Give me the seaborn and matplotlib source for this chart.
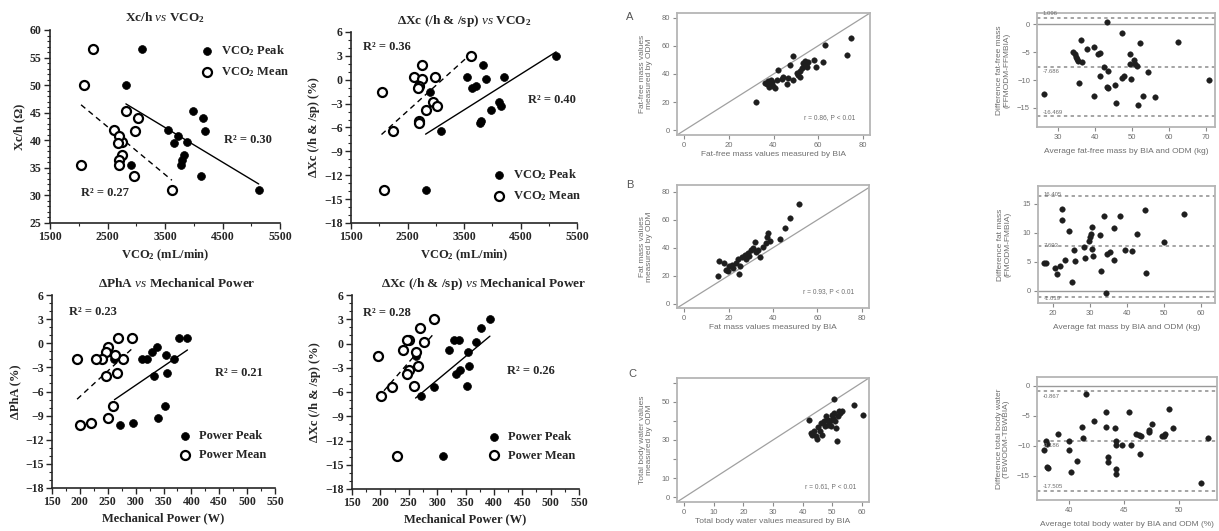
import matplotlib.pyplot as plt
import numpy as np
import pandas as pd
import seaborn as sns
from matplotlib.ticker import AutoMinorLocator, MultipleLocator

# ---- left figure: one value per subject ----
vco2_mean = [3620, 2760, 2980, 2620, 2760, 2700, 2680, 2040, 2960, 3030, 2830, 2700, 2700, 2250, 2090]
vco2_peak = [5130, 3830, 4200, 3550, 3890, 3720, 3650, 2900, 4120, 4160, 3980, 3800, 3780, 3100, 2820]
xc_h = [31.0, 37.4, 41.7, 41.8, 39.6, 40.8, 39.5, 35.6, 33.6, 44.0, 45.3, 36.5, 35.6, 56.5, 50.0]
delta_xc = [3.0, 1.9, 0.4, 0.4, 0.14, -0.8, -1.0, -1.6, -2.8, -3.3, -3.75, -5.2, -5.4, -6.5, -13.9]
power_mean = [294, 269, 250, 247, 277, 239, 263, 195, 266, 250, 247, 260, 220, 201, 229]
power_peak = [393, 377, 339, 330, 368, 321, 355, 262, 356, 341, 333, 352, 295, 272, 311]
delta_pha = [0.7, 0.7, -0.44, -1.1, -2.0, -2.0, -1.5, -1.9, -3.7, -9.3, -4.1, -7.8, -9.9, -10.2, -2.0]
vco2_ticks = [1500, 2500, 3500, 4500, 5500]

# ---- right figure: BIA vs ODM ----
ffm_bia = [32.0, 36.2, 37.0, 37.7, 38.4, 39.2, 39.9, 40.7, 42.2, 43.6, 44.4, 45.9, 46.6, 47.4, 48.6, 48.9,
           51.1, 51.9, 52.6, 53.4, 53.7, 54.1, 54.6, 54.9, 55.6, 58.2, 59.1, 62.0, 63.1, 72.8, 74.7,
           38.0, 39.0, 41.5, 50.5, 52.0]
ffm_odm = [20.5, 33.8, 32.6, 35.0, 33.0, 34.5, 31.5, 30.3, 43.0, 36.8, 37.8, 33.0, 37.3, 46.6, 36.0, 53.0,
           39.6, 37.8, 44.3, 47.8, 45.5, 49.4, 46.6, 44.8, 48.5, 50.1, 44.8, 48.5, 60.6, 53.6, 65.3,
           31.0, 35.5, 36.0, 40.5, 42.0]
fm_bia = [15.1, 15.5, 18.1, 18.9, 19.6, 20.4, 21.6, 22.2, 23.4, 24.2, 24.6, 25.2, 26.1, 27.2, 27.9, 28.7,
          29.4, 30.2, 30.9, 31.7, 32.5, 33.2, 34.3, 35.5, 36.7, 37.3, 37.7, 38.5, 43.0, 45.3, 47.8, 51.8]
fm_odm = [20.1, 30.3, 29.1, 24.4, 23.2, 26.7, 27.9, 25.6, 29.1, 32.0, 21.5, 26.7, 33.4, 35.0, 32.0, 36.3,
          34.3, 38.6, 39.8, 43.8, 36.7, 38.6, 33.4, 40.5, 43.3, 48.0, 50.9, 44.5, 46.2, 54.0, 61.1, 71.2]
tbw_bia = [42.2, 42.7, 43.3, 43.9, 44.4, 45.0, 45.2, 45.9, 46.1, 46.7, 47.3, 47.5, 47.8, 48.4, 48.6,
           49.3, 49.5, 49.8, 50.1, 50.5, 50.7, 51.0, 51.2, 51.6, 51.8, 52.4, 52.7, 53.2, 57.2, 60.3]
tbw_odm = [40.7, 33.7, 32.8, 34.6, 31.9, 30.7, 36.7, 34.6, 38.9, 32.8, 39.8, 37.2, 42.5, 40.7, 38.1,
           39.8, 37.2, 43.3, 41.6, 51.2, 44.2, 39.8, 36.3, 29.3, 42.5, 45.4, 44.2, 45.1, 48.1, 43.3]

# Bland-Altman points and limits
ffm_avg = [26.2, 34.1, 34.5, 34.8, 35.0, 35.5, 36.1, 35.6, 36.4, 37.7, 39.8, 39.8, 40.9, 41.4, 41.2, 42.3,
           43.2, 43.6, 43.2, 43.4, 45.5, 45.6, 47.3, 47.3, 47.7, 49.5, 49.4, 49.7, 50.5, 50.9, 51.2, 51.5,
           52.1, 53.0, 54.3, 56.1, 62.3, 70.9]
ffm_diff = [-12.5, -4.9, -5.3, -5.9, -6.2, -6.6, -2.9, -10.6, -6.8, -4.5, -4.0, -12.8, -5.3, -5.1, -9.3, -7.6,
            0.4, -8.4, -11.2, -11.5, -10.8, -14.1, -1.5, -9.6, -9.2, -5.3, -7.2, -9.8, -6.4, -7.2, -7.4, -14.5,
            -3.4, -12.8, -8.6, -13.1, -3.1, -9.9]
fm_avg = [17.5, 18.0, 20.5, 21.1, 21.8, 22.5, 22.5, 23.2, 24.4, 25.0, 25.6, 25.9, 28.4, 28.6, 29.8, 30.0,
          30.2, 30.5, 30.5, 30.7, 32.7, 32.9, 33.8, 34.4, 34.5, 35.3, 36.4, 36.5, 38.0, 39.5, 41.4, 42.7,
          44.8, 45.0, 50.0, 55.3]
fm_diff = [4.8, 4.8, 4.0, 2.9, 4.3, 14.2, 12.3, 5.4, 10.3, 1.6, 7.1, 5.2, 7.5, 5.6, 8.6, 9.3,
           9.8, 11.1, 7.3, 6.1, 9.6, 3.4, 12.9, -0.3, 6.4, 6.7, 5.4, 10.9, 12.9, 7.1, 6.9, 9.8,
           14.0, 3.1, 8.4, 13.2]
tbw_avg = [37.7, 37.9, 38.0, 38.1, 38.0, 39.0, 40.0, 40.0, 40.2, 40.7, 41.2, 41.3, 42.3, 41.6, 43.4, 43.4,
           43.6, 43.6, 44.2, 44.3, 44.3, 44.3, 44.3, 44.8, 45.5, 45.7, 46.1, 46.4, 46.6, 46.5, 47.3, 47.3,
           47.6, 48.5, 48.7, 48.8, 49.1, 49.5, 52.0, 52.7]
tbw_diff = [-10.7, -9.2, -13.5, -13.6, -9.7, -8.0, -9.2, -10.7, -14.4, -12.5, -6.9, -8.7, -5.9, -1.3, -4.4, -6.9,
            -11.8, -12.6, -7.0, -9.1, -9.9, -13.9, -14.7, -9.9, -4.4, -9.9, -8.0, -8.1, -8.3, -11.3, -7.4, -7.7,
            -6.3, -8.4, -8.3, -8.0, -3.8, -7.0, -16.1, -8.7]
ffm_loa = [1.096, -7.686, -16.469]
fm_loa = [16.405, 7.693, -1.019]
tbw_loa = [-0.867, -9.186, -17.505]

sns.set_style("ticks")
plt.rcParams["font.family"] = ["Liberation Serif", "DejaVu Serif"]
plt.rcParams["mathtext.fontset"] = "custom"
plt.rcParams["mathtext.rm"] = "Liberation Serif"
plt.rcParams["mathtext.it"] = "Liberation Serif:italic"
plt.rcParams["mathtext.bf"] = "Liberation Serif:bold"

fig = plt.figure(figsize=(12.19, 5.31), dpi=100)
W, H = 1219, 531


def add_ax(x0, x1, y0, y1):
    return fig.add_axes([x0 / W, 1 - y1 / H, (x1 - x0) / W, (y1 - y0) / H])


def left_panel(ax, xp, xm, y, names, title, xlabel, ylabel, r2, leg_xy):
    df = pd.DataFrame({"peak": xp, "mean": xm, "y": y})
    sns.regplot(data=df, x="peak", y="y", scatter=False, ci=None, color="black",
                line_kws=dict(lw=1.0), ax=ax)
    sns.regplot(data=df, x="mean", y="y", scatter=False, ci=None, color="black",
                line_kws=dict(lw=1.0, ls=(0, (4, 3))), ax=ax)
    sns.scatterplot(data=df, x="peak", y="y", color="black", edgecolor="black", s=32,
                    linewidth=0.5, label=names[0], ax=ax, zorder=3)
    sns.scatterplot(data=df, x="mean", y="y", color="white", edgecolor="black", s=42,
                    linewidth=1.6, label=names[1], ax=ax, zorder=3)
    for (tx, ty, t) in r2:
        ax.text(tx, ty, t, ha="center", va="center", fontsize=9, fontweight="bold")
    ax.set_title(title, fontsize=9.5, fontweight="bold", pad=6)
    ax.set_xlabel(xlabel, fontsize=9, fontweight="bold", labelpad=3)
    ax.set_ylabel(ylabel, fontsize=9, fontweight="bold", labelpad=3)
    ax.legend(loc="upper left", bbox_to_anchor=leg_xy, frameon=False, handletextpad=0.1,
              borderpad=0, labelspacing=0.55, borderaxespad=0,
              prop=dict(family="Liberation Serif", weight="bold", size=9))
    sns.despine(ax=ax)
    for s in ("left", "bottom"):
        ax.spines[s].set_linewidth(1.2)
    ax.tick_params(which="major", direction="out", length=4, width=1, labelsize=8.5, pad=2)
    ax.tick_params(which="minor", direction="out", length=2.5, width=0.8)
    for lbl in ax.get_xticklabels() + ax.get_yticklabels():
        lbl.set_fontweight("bold")


# ---- left column panels ----
ax1 = add_ax(50, 280, 30, 223)
ax1.set_xlim(1500, 5500); ax1.set_ylim(25, 60)
ax1.set_xticks(vco2_ticks); ax1.xaxis.set_minor_locator(AutoMinorLocator(2))
ax1.yaxis.set_major_locator(MultipleLocator(5)); ax1.yaxis.set_minor_locator(AutoMinorLocator(5))
left_panel(ax1, vco2_peak, vco2_mean, xc_h, ["VCO$_\\mathbf{2}$ Peak", "VCO$_\\mathbf{2}$ Mean"],
           "Xc/h $\\mathit{vs}$ VCO$_\\mathbf{2}$", "VCO$_\\mathbf{2}$ (mL/min)", "Xc/h (Ω)",
           [(4950, 40.0, "R² = 0.30"), (2460, 30.4, "R² = 0.27")], (0.63, 0.93))

ax2 = add_ax(351, 577, 32, 223)
ax2.set_xlim(1500, 5500); ax2.set_ylim(-18, 6)
ax2.set_xticks(vco2_ticks); ax2.xaxis.set_minor_locator(AutoMinorLocator(2))
ax2.yaxis.set_major_locator(MultipleLocator(3)); ax2.yaxis.set_minor_locator(AutoMinorLocator(3))
left_panel(ax2, vco2_peak, vco2_mean, delta_xc, ["VCO$_\\mathbf{2}$ Peak", "VCO$_\\mathbf{2}$ Mean"],
           "ΔXc (/h & /sp) $\\mathit{vs}$ VCO$_\\mathbf{2}$", "VCO$_\\mathbf{2}$ (mL/min)",
           "ΔXc (/h & /sp) (%)",
           [(2140, 4.1, "R² = 0.36"), (5060, -2.5, "R² = 0.40")], (0.60, 0.29))

ax3 = add_ax(52, 275, 295, 488)
ax3.set_xlim(150, 550); ax3.set_ylim(-18, 6)
ax3.xaxis.set_major_locator(MultipleLocator(50)); ax3.xaxis.set_minor_locator(AutoMinorLocator(2))
ax3.yaxis.set_major_locator(MultipleLocator(3)); ax3.yaxis.set_minor_locator(AutoMinorLocator(3))
left_panel(ax3, power_peak, power_mean, delta_pha, ["Power Peak", "Power Mean"],
           "ΔPhA $\\mathit{vs}$ Mechanical Power", "Mechanical Power (W)", "ΔPhA (%)",
           [(223, 3.9, "R² = 0.23"), (485, -3.7, "R² = 0.21")], (0.54, 0.30))
ax3.title.set_x(0.56)

ax4 = add_ax(352, 579, 295, 489)
ax4.set_xlim(150, 550); ax4.set_ylim(-18, 6)
ax4.xaxis.set_major_locator(MultipleLocator(50)); ax4.xaxis.set_minor_locator(AutoMinorLocator(2))
ax4.yaxis.set_major_locator(MultipleLocator(3)); ax4.yaxis.set_minor_locator(AutoMinorLocator(3))
left_panel(ax4, power_peak, power_mean, delta_xc, ["Power Peak", "Power Mean"],
           "ΔXc (/h & /sp) $\\mathit{vs}$ Mechanical Power", "Mechanical Power (W)",
           "ΔXc (/h & /sp) (%)",
           [(212, 3.8, "R² = 0.28"), (465, -3.4, "R² = 0.26")], (0.57, 0.30))
ax4.title.set_x(0.58)

# ---- right figure (R style, grey) ----
SANS = "Liberation Sans"
GREY = "#6f6f6f"


def r_style(ax, ylab_x):
    for s in ax.spines.values():
        s.set_visible(True); s.set_color("#b5b5b5"); s.set_linewidth(1.3)
    ax.tick_params(direction="out", length=3, width=0.8, color="#8a8a8a", labelsize=5.5,
                   labelcolor=GREY, pad=2)
    for lbl in ax.get_xticklabels() + ax.get_yticklabels():
        lbl.set_family(SANS)
    ax.xaxis.label.set_color(GREY); ax.yaxis.label.set_color(GREY)
    ax.yaxis.set_label_coords(ylab_x, 0.5)


def agreement(ax, bia, odm, lim, ticks, xlab, ylab, note, note_xy, ylab_x, yticklabels=None):
    df = pd.DataFrame({"bia": bia, "odm": odm})
    ax.axline((0, 0), slope=1, color="#a0a0a0", lw=0.9)
    sns.scatterplot(data=df, x="bia", y="odm", color="#1e1e1e", s=16, edgecolor="#1e1e1e",
                    linewidth=0.3, ax=ax, zorder=3)
    pad = (lim[1] - lim[0]) * 0.04
    ax.set_xlim(lim[0] - pad, lim[1] + pad); ax.set_ylim(lim[0] - pad, lim[1] + pad)
    ax.set_xticks(ticks); ax.set_yticks(ticks)
    if yticklabels is not None:
        ax.set_yticklabels(yticklabels)
    ax.set_xlabel(xlab, fontsize=6, family=SANS, labelpad=1.5)
    ax.set_ylabel(ylab, fontsize=6, family=SANS, linespacing=1.0)
    ax.text(*note_xy, note, fontsize=4.8, family=SANS, color=GREY, ha="center", va="center")
    r_style(ax, ylab_x)


def bland_altman(ax, avg, diff, loa, xlim, ylim, xt, yt, xlab, ylab, offs, ylab_x):
    df = pd.DataFrame({"avg": avg, "diff": diff})
    ax.axhline(0, color="#9a9a9a", lw=1.0)
    for v in loa:
        ax.axhline(v, color="#8c8c8c", lw=1.1, ls=(0, (2.2, 2.2)))
    sns.scatterplot(data=df, x="avg", y="diff", color="#1e1e1e", s=16, edgecolor="#1e1e1e",
                    linewidth=0.3, ax=ax, zorder=3)
    tr = ax.get_yaxis_transform()
    for v, o in zip(loa, offs):
        ax.text(0.03, v + o, f"{v:g}", transform=tr, fontsize=4.3, family=SANS, color=GREY,
                ha="left", va="center")
    ax.set_xlim(*xlim); ax.set_ylim(*ylim)
    ax.set_xticks(xt); ax.set_yticks(yt)
    ax.set_xlabel(xlab, fontsize=6, family=SANS, labelpad=5)
    ax.set_ylabel(ylab, fontsize=6, family=SANS, linespacing=1.0)
    r_style(ax, ylab_x)


axA = add_ax(677, 870, 13, 135)
agreement(axA, ffm_bia, ffm_odm, (0, 80), [0, 20, 40, 60, 80],
          "Fat-free mass values measured by BIA", "Fat-free mass values\nmeasured by ODM",
          "r = 0.86, P < 0.01", (65, 9), -0.125)
axB = add_ax(677, 869, 185, 308)
agreement(axB, fm_bia, fm_odm, (0, 80), [0, 20, 40, 60, 80],
          "Fat mass values measured by BIA", "Fat mass values\nmeasured by ODM",
          "r = 0.93, P < 0.01", (65, 8.6), -0.125)
axB.set_ylim(-3.2, 85)
axC = add_ax(677, 869, 378, 502)
agreement(axC, tbw_bia, tbw_odm, (0, 60), [0, 10, 20, 30, 40, 50, 60],
          "Total body water values measured by BIA", "Total body water values\nmeasured by ODM",
          "r = 0.61, P < 0.01", (49.5, 5.8), -0.125,
          yticklabels=["0", "10", "", "30", "", "50", ""])

axA2 = add_ax(1037, 1215, 13, 127)
bland_altman(axA2, ffm_avg, ffm_diff, ffm_loa, (24.3, 72.4), (-18.4, 2.0), [30, 40, 50, 60, 70],
             [0, -5, -10, -15], "Average fat-free mass by BIA and ODM (kg)",
             "Difference fat-free mass\n(FFMODM-FFMBIA)", (0.75, -0.75, 0.75), -0.15)
axB2 = add_ax(1038, 1215, 186, 303)
bland_altman(axB2, fm_avg, fm_diff, fm_loa, (15.9, 63.8), (-2.1, 18.1), [20, 30, 40, 50, 60],
             [0, 5, 10, 15], "Average fat mass by BIA and ODM (kg)",
             "Difference fat mass\n(FMODM-FMBIA)", (0.2, 0.2, -0.3), -0.15)
axC2 = add_ax(1037, 1217, 377, 500)
bland_altman(axC2, tbw_avg, tbw_diff, tbw_loa, (37.1, 53.5), (-19.0, 1.5), [40, 45, 50],
             [0, -5, -10, -15], "Average total body water by BIA and ODM (%)",
             "Difference total body water\n(TBWODM-TBWBIA)", (-0.8, -0.8, 0.8), -0.15)

for lab, (px, py) in zip(["A", "B", "C"], [(630, 17), (630, 185), (632, 374)]):
    fig.text(px / W, 1 - py / H, lab, fontsize=8, family=SANS, color="#555555",
             ha="center", va="center")

fig.savefig("out.png", dpi=100)
